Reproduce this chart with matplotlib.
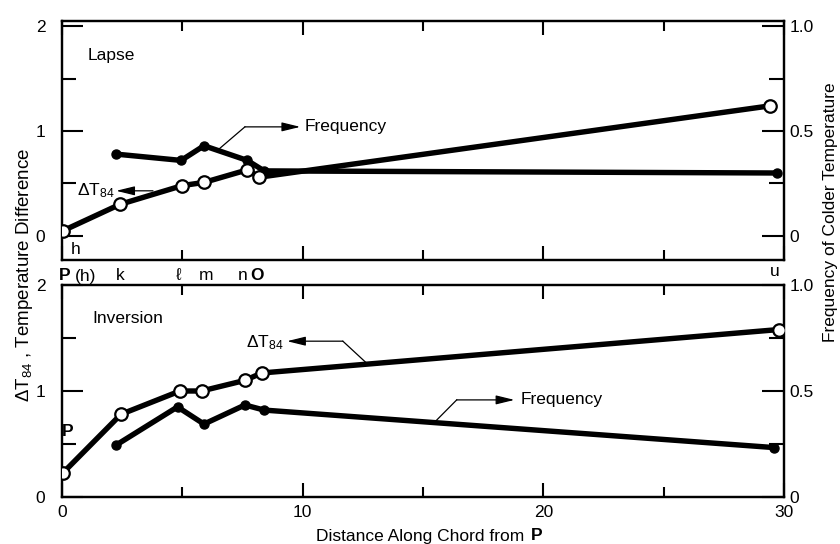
import matplotlib
matplotlib.use("Agg")
import matplotlib.pyplot as plt
from matplotlib.ticker import MultipleLocator
import matplotlib.transforms as mtrans

plt.rcParams['font.family'] = ['Liberation Sans', 'DejaVu Sans']
plt.rcParams['mathtext.fontset'] = 'custom'
plt.rcParams['mathtext.rm'] = 'Liberation Sans'
plt.rcParams['mathtext.it'] = 'Liberation Sans:italic'
plt.rcParams['font.size'] = 12.5

# ---------------- data ----------------
# Lapse (top panel)
lapse_dt_x = [0.05, 2.4, 5.0, 5.9, 7.7, 8.2, 29.4]
lapse_dt = [0.05, 0.30, 0.48, 0.51, 0.63, 0.56, 1.24]
lapse_freq_x = [2.25, 4.95, 5.9, 7.7, 8.4, 29.7]
lapse_freq = [0.39, 0.36, 0.43, 0.36, 0.31, 0.30]

# Inversion (bottom panel)
inv_dt_x = [0.05, 2.45, 4.9, 5.8, 7.6, 8.3, 29.8]
inv_dt = [0.23, 0.78, 1.00, 1.00, 1.10, 1.17, 1.58]
inv_freq_x = [2.25, 4.8, 5.9, 7.6, 8.4, 29.6]
inv_freq = [0.245, 0.425, 0.344, 0.434, 0.41, 0.233]

# station letters along the chord
station_labels = ['k', 'ℓ', 'm', 'n', 'O', 'u']
station_x = [2.4, 4.85, 6.0, 7.5, 8.1, 29.6]

left_ticks = [0, 1, 2]
right_ticks = [0, 0.5, 1.0]
right_ticklabels = ['0', '0.5', '1.0']
x_ticks = [0, 10, 20, 30]

# ---------------- figure ----------------
fig = plt.figure(figsize=(8.4, 5.44), dpi=100)
ax_top = fig.add_axes([62/840, 1-260/544, 722/840, 239/544])
ax_bot = fig.add_axes([62/840, 1-497/544, 722/840, 212/544])

LW = 3.9
def style(ax, ylim_l, show_xlabels):
    ax.set_xlim(0, 30)
    ax.set_ylim(*ylim_l)
    ax.xaxis.set_major_locator(MultipleLocator(10))
    ax.xaxis.set_minor_locator(MultipleLocator(5))
    ax.set_xticks(x_ticks)
    ax.set_yticks(left_ticks)
    ax.yaxis.set_minor_locator(MultipleLocator(0.5))
    ax.tick_params(axis='both', which='both', direction='in', width=1.5)
    ax.tick_params(axis='y', which='major', length=15, left=True, right=False, pad=12)
    ax.tick_params(axis='y', which='minor', length=10, left=True, right=False)
    ax.tick_params(axis='x', which='major', length=10, top=True, bottom=True, pad=6)
    ax.tick_params(axis='x', which='minor', length=7, top=True, bottom=True)
    if not show_xlabels:
        ax.tick_params(axis='x', labelbottom=False)
    for s in ax.spines.values():
        s.set_linewidth(1.6)

def style_right(axr, ylim_r):
    axr.set_ylim(*ylim_r)
    axr.set_yticks(right_ticks)
    axr.set_yticklabels(right_ticklabels)
    axr.yaxis.set_minor_locator(MultipleLocator(0.25))
    axr.tick_params(axis='y', which='major', direction='in', length=16, width=1.5, pad=4)
    axr.tick_params(axis='y', which='minor', direction='in', length=11, width=1.5)
    for s in axr.spines.values():
        s.set_linewidth(1.6)

# --- top (Lapse) ---
style(ax_top, (-0.23, 2.05), False)
axr_top = ax_top.twinx()
style_right(axr_top, (-0.115, 1.025))
axr_top.plot(lapse_freq_x, lapse_freq, '-o', color='black', lw=LW, ms=6.5,
             mfc='black', mec='black', zorder=3)
ax_top.set_zorder(axr_top.get_zorder() + 1)
ax_top.patch.set_visible(False)
ax_top.plot(lapse_dt_x, lapse_dt, '-o', color='black', lw=LW, ms=9,
            mfc='white', mec='black', mew=1.6, zorder=3)

ax_top.text(1.08, 1.72, 'Lapse', ha='left', va='center')
ax_top.text(0.55, -0.13, 'h', ha='center', va='center')

ARROW = dict(arrowstyle='-|>,head_length=0.9,head_width=0.22',
             lw=0.9, color='black', shrinkA=0, shrinkB=0)
# Frequency annotation (top)
ax_top.plot([6.48, 7.6], [0.82, 1.04], color='black', lw=0.9)
ax_top.annotate('', xy=(9.9, 1.04), xytext=(7.6, 1.04), arrowprops=ARROW)
ax_top.text(10.1, 1.04, 'Frequency', ha='left', va='center')
# Delta T annotation (top)
ax_top.annotate('', xy=(2.25, 0.43), xytext=(3.78, 0.43), arrowprops=ARROW)
ax_top.text(2.2, 0.43, r'ΔT$_{84}$', ha='right', va='center')

# station letters between panels
trans = mtrans.blended_transform_factory(ax_top.transData, fig.transFigure)
ly = 1 - 276/544
fig.text(-0.15, ly, 'P', fontweight='bold', ha='left', va='center', transform=trans)
fig.text(0.55, ly, '(h)', ha='left', va='center', transform=trans)
for lab, xp in zip(station_labels, station_x):
    kw = dict(fontweight='bold') if lab == 'O' else {}
    yy = 1 - 272/544 if lab == 'u' else ly
    fig.text(xp, yy, lab, ha='center', va='center', transform=trans, **kw)

# --- bottom (Inversion) ---
style(ax_bot, (0, 2), True)
axr_bot = ax_bot.twinx()
style_right(axr_bot, (0, 1.0))
axr_bot.plot(inv_freq_x, inv_freq, '-o', color='black', lw=LW, ms=6.5,
             mfc='black', mec='black', zorder=3)
ax_bot.set_zorder(axr_bot.get_zorder() + 1)
ax_bot.patch.set_visible(False)
ax_bot.plot(inv_dt_x, inv_dt, '-o', color='black', lw=LW, ms=9,
            mfc='white', mec='black', mew=1.6, zorder=3)
ax_bot.set_xticklabels([str(v) for v in x_ticks])

ax_bot.text(1.25, 1.68, 'Inversion', ha='left', va='center')
ax_bot.text(0.0, 0.62, 'P', fontweight='bold', ha='left', va='center')

# Delta T annotation (bottom)
ax_bot.plot([12.67, 11.67], [1.26, 1.47], color='black', lw=0.9)
ax_bot.annotate('', xy=(9.35, 1.47), xytext=(11.67, 1.47), arrowprops=ARROW)
ax_bot.text(9.2, 1.46, r'ΔT$_{84}$', ha='right', va='center')
# Frequency annotation (bottom, in right-axis units)
axr_bot.plot([15.5, 16.4], [0.355, 0.458], color='black', lw=0.9)
axr_bot.annotate('', xy=(18.8, 0.458), xytext=(16.4, 0.458), arrowprops=ARROW)
axr_bot.text(19.07, 0.458, 'Frequency', ha='left', va='center')

# axis titles
fig.text(25/840, 1 - 275/544, r'ΔT$_{84}$ , Temperature Difference',
         rotation=90, ha='center', va='center', fontsize=13.5)
fig.text(830/840, 1 - 212/544, 'Frequency of Colder Temperature',
         rotation=90, ha='center', va='center')
xl = fig.text(423/840, 1 - 536/544, 'Distance Along Chord from ', ha='center', va='center')
fig.canvas.draw()
bb = xl.get_window_extent()
fig.text((bb.x1 + 1) / 840, 1 - 536/544, 'P', fontweight='bold', ha='left', va='center')

fig.savefig('out.png', dpi=100)
